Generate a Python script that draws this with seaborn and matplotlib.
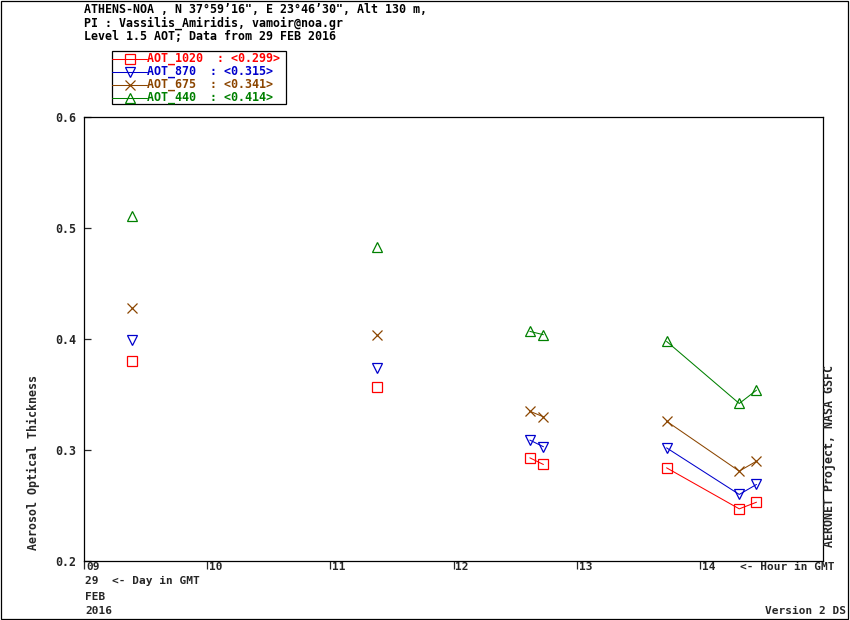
import numpy as np
import pandas as pd
import matplotlib
matplotlib.use("Agg")
import matplotlib.pyplot as plt
from matplotlib.lines import Line2D
from matplotlib.patches import Rectangle
from matplotlib.transforms import ScaledTranslation
import seaborn as sns

sns.set_style("white")
plt.rcParams['font.family'] = ['DejaVu Sans Mono', 'DejaVu Sans']

# hour of day (GMT) of each measurement, and which run of points it belongs to
hours = [9.389, 11.38, 12.62, 12.73, 13.73, 14.32, 14.46]
segment = [0, 1, 2, 2, 3, 3, 3]

aot_1020 = [0.380, 0.357, 0.293, 0.287, 0.284, 0.247, 0.253]
aot_870 = [0.399, 0.374, 0.309, 0.303, 0.302, 0.260, 0.269]
aot_675 = [0.428, 0.404, 0.335, 0.330, 0.326, 0.281, 0.290]
aot_440 = [0.511, 0.483, 0.407, 0.404, 0.398, 0.342, 0.354]

channels = ["AOT_1020", "AOT_870", "AOT_675", "AOT_440"]
channel_means = ["0.299", "0.315", "0.341", "0.414"]
colors = ["#ff0000", "#0000cc", "#8b4500", "#008000"]
markers = ["s", "v", "x", "^"]

xticks = [9, 10, 11, 12, 13, 14]
xticklabels = ["09", "10", "11", "12", "13", "14"]
yticks = [0.2, 0.3, 0.4, 0.5, 0.6]

frames = []
for ch, vals in zip(channels, [aot_1020, aot_870, aot_675, aot_440]):
    frames.append(pd.DataFrame({"hour": hours, "aot": vals, "seg": segment, "channel": ch}))
df = pd.concat(frames, ignore_index=True)

W, H = 850, 620
fig = plt.figure(figsize=(W / 100, H / 100), dpi=100)


def fx(x):
    return x / W


def fy(y):
    return 1 - y / H


ax = fig.add_axes([fx(84), fy(561), fx(823) - fx(84), fy(117.3) - fy(561)])

for ch, c, m in zip(channels, colors, markers):
    sns.lineplot(data=df[df.channel == ch], x="hour", y="aot", units="seg", estimator=None,
                 color=c, marker=m, markersize=6.5, mfc="none", mec=c, mew=0.9,
                 linewidth=0.75, ax=ax, legend=False)

ax.set_xlim(9, 15)
ax.set_ylim(0.2, 0.6)
ax.set_xlabel("")
ax.set_ylabel("")
for s in ax.spines.values():
    s.set_linewidth(0.9)
    s.set_color("black")

ax.set_xticks(xticks)
ax.set_xticklabels(xticklabels, ha="left", fontsize=8, fontweight="bold")
ax.set_yticks(yticks)
ax.set_yticklabels(["%.1f" % v for v in yticks], fontsize=8.4, fontweight="bold")
# ticks in points: 8 px down on x, 7 px inward on y
ax.tick_params(axis="x", bottom=True, direction="out", length=5.8, width=0.9, pad=-5.2)
ax.tick_params(axis="y", left=True, direction="in", length=5, width=0.9, pad=5.5)
# x labels sit just right of their tick mark
shift = ScaledTranslation(2 / 100, 0, fig.dpi_scale_trans)
for lab in ax.get_xticklabels():
    lab.set_transform(lab.get_transform() + shift)

# header
bold = dict(fontsize=8.4, fontweight="bold", color="black", va="center", ha="left")
fig.text(fx(84), fy(9.5), "ATHENS-NOA , N 37\u00b059\u201916\", E 23\u00b046\u201930\", Alt 130 m,", **bold)
fig.text(fx(84), fy(23), "PI : Vassilis_Amiridis, vamoir@noa.gr", **bold)
fig.text(fx(84), fy(36.5), "Level 1.5 AOT; Data from 29 FEB 2016", **bold)

# legend box drawn by hand
fig.patches.append(Rectangle((fx(112), fy(104)), fx(286) - fx(112), fy(51) - fy(104),
                             transform=fig.transFigure, fill=False, edgecolor="black", lw=0.9))
for i, (ch, mv, c, m) in enumerate(zip(channels, channel_means, colors, markers)):
    yy = fy(58.5 + 13 * i)
    fig.lines.append(Line2D([fx(112), fx(147)], [yy, yy], transform=fig.transFigure,
                            color=c, lw=0.75))
    fig.lines.append(Line2D([fx(130)], [yy], transform=fig.transFigure, color=c,
                            marker=m, markersize=7, mfc="none", mec=c, mew=0.9, lw=0))
    fig.text(fx(147), yy, "%s  : <%s>" % (ch, mv), color=c, fontsize=8.4,
             fontweight="bold", va="center", ha="left")

# axis annotations
fig.text(fx(33), fy(462), "Aerosol Optical Thickness", rotation=90, fontsize=8.4,
         fontweight="bold", va="center", ha="center")
fig.text(fx(829), fy(456), "AERONET Project, NASA GSFC", rotation=90, fontsize=8.4,
         fontweight="bold", va="center", ha="center")
fig.text(fx(740), fy(567), "<- Hour in GMT", fontsize=8, fontweight="bold", va="center", ha="left")
fig.text(fx(85), fy(581), "29  <- Day in GMT", fontsize=8, fontweight="bold", va="center", ha="left")
fig.text(fx(85), fy(597), "FEB", fontsize=8, fontweight="bold", va="center", ha="left")
fig.text(fx(85), fy(611), "2016", fontsize=8, fontweight="bold", va="center", ha="left")
fig.text(fx(846), fy(611), "Version 2 DS", fontsize=8, fontweight="bold", va="center", ha="right")

# outer border
fig.patches.append(Rectangle((fx(1), fy(618.5)), fx(848) - fx(1), fy(1) - fy(618.5),
                             transform=fig.transFigure, fill=False, edgecolor="black", lw=0.9))

fig.savefig("out.png", dpi=100)
